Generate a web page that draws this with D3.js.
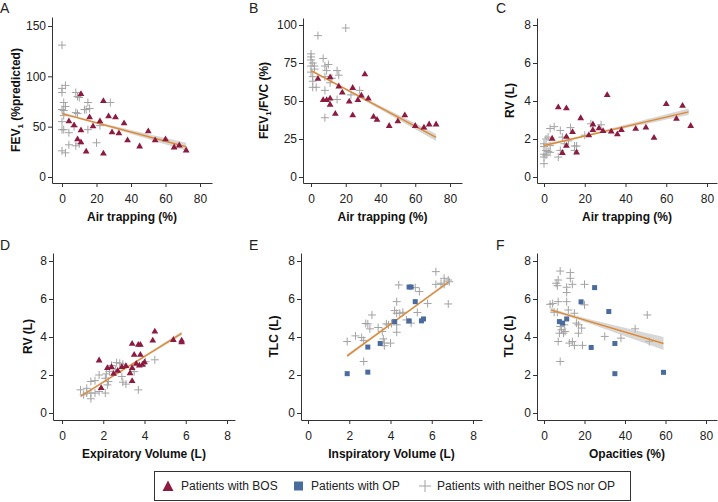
<!DOCTYPE html>
<html>
<head>
<meta charset="utf-8">
<script src="https://cdn.jsdelivr.net/npm/d3@7"></script>
<style>
  body { margin: 0; background: #fff; }
  svg { display: block; font-family: "Liberation Sans", Arial, Helvetica, sans-serif; }
</style>
</head>
<body>
<svg id="chart" width="718" height="502"></svg>
<script>
// data, [x, y]
const aBos = [[4,56],[7,52],[9,38],[11,35],[11,83],[11,47],[14,26],[16,60],[18,51],[22,56],[24,76],[24,24],[27,61],[29,45],[31,60],[33,44],[36,54],[38,37],[45,31],[50,46],[54,37],[60,38],[65,30],[68,32],[72,27]]
const aNeither = [[0,131],[0,88],[2,91],[0,84],[1,74],[2,70],[0,67],[1,66],[1,61],[0,55],[0,47],[1,47],[0,26],[2,24],[4,44],[4,32],[7,50],[8,84],[9,80],[10,79],[8,64],[9,63],[8,31],[10,33],[13,67],[14,67],[16,68],[15,74],[15,47],[20,34],[22,51],[28,74]]

const bBos = [[4,65],[7,51],[9,51],[11,52],[11,66],[11,48],[14,42],[16,60],[18,56],[22,50],[24,59],[24,41],[27,51],[29,54],[31,68],[33,52],[36,40],[38,38],[45,34],[50,37],[54,41],[60,34],[65,33],[68,35],[72,35]]
const bNeither = [[4,93],[20,98],[0,81],[0,79],[0,77],[1,75],[0,73],[2,73],[0,69],[2,71],[1,66],[1,63],[1,59],[3,59],[7,78],[8,73],[10,74],[8,66],[9,70],[8,57],[8,39],[12,65],[11,62],[15,70],[16,67],[15,51],[28,57],[23,54]]

const cBos = [[4,2.05],[7,3.7],[9,1.3],[11,3.65],[11,2.15],[11,1.67],[14,2.4],[16,1.32],[18,3.13],[22,2.23],[24,2.8],[24,2.5],[27,2.6],[29,2.45],[31,4.35],[33,2.43],[36,2.28],[38,2.5],[45,2.57],[50,2.64],[54,2.1],[60,3.87],[65,3.1],[68,3.78],[72,2.72]]
const cNeither = [[0,0.7],[0,1.05],[0,1.2],[1,1.4],[0,1.6],[0,1.75],[1,2.0],[3,1.65],[2,2.1],[3,2.55],[5,2.65],[3,1.3],[7,1.05],[8,2.45],[9,2.1],[8,1.4],[10,1.75],[12,1.9],[13,2.6],[15,1.63],[16,1.63],[15,1.4],[20,2.2],[23,2.8],[28,2.75],[1,1.15],[2,1.35]]

const dBos = [[1.8,2.8],[1.9,1.35],[2.2,2.4],[2.4,2.45],[2.5,2.1],[2.7,2.25],[2.9,2.45],[3.1,2.5],[3.3,2.13],[3.4,2.4],[3.4,3.67],[3.4,1.71],[3.5,3.1],[3.6,2.62],[3.7,3.62],[3.8,3.62],[3.75,2.53],[3.9,2.57],[3.8,3.1],[4.0,2.7],[4.4,3.85],[4.5,4.32],[5.4,3.88],[5.8,3.85],[5.8,3.76]]
const dNeither = [[0.9,1.22],[1.2,1.3],[1.4,1.05],[1.4,0.75],[1.4,1.66],[1.6,1.7],[1.2,1.05],[1.05,0.96],[1.8,2.0],[1.6,1.05],[1.8,1.13],[2.1,1.83],[2.2,1.48],[2.1,1.05],[2.25,1.66],[2.3,2.18],[2.15,2.06],[2.65,2.65],[2.8,2.62],[2.95,2.57],[2.9,1.92],[2.95,1.62],[3.1,1.52],[3.5,2.18],[3.7,1.22],[4.05,2.7],[4.5,2.8],[2.6,2.27],[2.4,2.5]]

const eOp = [[1.9,2.07],[2.9,2.15],[2.9,3.47],[3.5,3.66],[4.2,4.81],[4.9,6.63],[5.0,6.63],[4.9,4.85],[5.2,5.86],[5.5,4.85],[5.6,4.95]]
const eNeither = [[1.9,3.76],[2.3,4.06],[2.6,3.97],[2.7,3.82],[2.7,2.71],[2.8,4.71],[2.9,4.69],[3.0,4.43],[3.1,5.16],[3.4,4.5],[3.6,4.29],[3.65,3.9],[3.7,3.68],[3.7,3.54],[3.8,4.69],[3.9,4.64],[4.0,3.68],[4.05,4.71],[4.2,5.39],[4.3,5.25],[4.3,5.86],[4.3,4.25],[4.3,4.64],[4.4,6.74],[4.45,5.25],[4.6,5.3],[4.77,4.9],[5.0,4.73],[5.2,6.6],[5.3,5.29],[5.4,6.39],[5.8,5.76],[6.2,7.44],[6.2,6.77],[6.45,6.83],[6.6,7.09],[6.6,6.77],[6.8,7.0],[6.8,5.74],[6.85,6.91]]

const fOp = [[7.6,4.81],[9.2,4.73],[11.2,4.95],[18.3,5.85],[23.3,3.45],[25,6.6],[32,5.34],[35,3.66],[35,2.07],[59,2.14]]
const fNeither = [[3,5.72],[4.3,5.76],[5,5.3],[6,6.83],[7,7.0],[6.6,6.7],[7,5.86],[7,3.76],[6.6,5.3],[8,7.47],[8,2.71],[8,4.55],[7.6,4.2],[8.7,4.38],[9.6,4.2],[10,4.64],[10.4,4.29],[11.2,6.62],[11.2,6.34],[11.2,5.86],[12,5.42],[12.5,3.68],[13,7.39],[13,7.09],[14,6.77],[14,3.76],[15,3.56],[15,5.25],[16,4.73],[17,4.64],[17,4.2],[18.6,4.47],[19,3.56],[20,6.77],[20,5.69],[30,4.03],[38,3.94],[45,4.43],[51,5.16],[52,3.76]]

// fitted lines: [x0, y0, x1, y1]; band half-widths at [start, middle, end]
const fitA = [0, 63, 72, 30],     bandA = [[0, 20, 72], [2, 1, 4]]
const fitB = [0, 70, 72, 26],     bandB = [[0, 20, 72], [1, 0.7, 2.3]]
const fitC = [0, 1.66, 71, 3.43], bandC = [[0, 20, 71], [0.1, 0.05, 0.17]]
const fitD = [0.9, 0.88, 5.8, 4.19], bandD = [[0.9, 3, 5.8], [0.09, 0.05, 0.1]]
const fitE = [1.9, 3.01, 6.8, 6.88], bandE = [[1.9, 4.5, 6.8], [0.09, 0.05, 0.09]]
const fitF = [3.3, 5.43, 59, 3.66], bandF = [[3.3, 14, 59], [0.16, 0.08, 0.34]]

const pctTicks = [0, 20, 40, 60, 80]
const litreTicks = [0, 2, 4, 6, 8]

const legendLabels = ['Patients with BOS', 'Patients with OP', 'Patients with neither BOS nor OP']

const RED = '#8c1b3f', BLUE = '#4a6b9e', GRAY = '#a3a3a3', LINE = '#e0892e'

// panel layout (pixels)
const panels = [
  {letter: 'A', lx: 0,   ly: 13,  box: [52, 212, 17, 183],  xr: [62, 200],  yr: [177, 26],  xd: [0, 80], yd: [0, 150],
   xt: pctTicks, yt: [0, 50, 100, 150], xl: 'Air trapping (%)', yl: ['FEV', '1', ' (%predicted)'], ylx: 16,
   bos: aBos, op: [], nei: aNeither, fit: fitA, band: bandA},
  {letter: 'B', lx: 249, ly: 13,  box: [303, 462, 18, 183], xr: [311, 450], yr: [177, 25],  xd: [0, 80], yd: [0, 100],
   xt: pctTicks, yt: [0, 25, 50, 75, 100], xl: 'Air trapping (%)', yl: ['FEV', '1', '/FVC (%)'], ylx: 264,
   bos: bBos, op: [], nei: bNeither, fit: fitB, band: bandB},
  {letter: 'C', lx: 496, ly: 13,  box: [537, 717, 18, 183], xr: [544, 707], yr: [177, 25],  xd: [0, 80], yd: [0, 8],
   xt: pctTicks, yt: [0, 2, 4, 6, 8], xl: 'Air trapping (%)', yl: ['RV (L)'], ylx: 510,
   bos: cBos, op: [], nei: cNeither, fit: fitC, band: bandC},
  {letter: 'D', lx: 0,   ly: 250, box: [53, 235, 253, 420], xr: [62, 227],  yr: [413, 261], xd: [0, 8], yd: [0, 8],
   xt: litreTicks, yt: [0, 2, 4, 6, 8], xl: 'Expiratory Volume (L)', yl: ['RV (L)'], ylx: 28,
   bos: dBos, op: [], nei: dNeither, fit: fitD, band: bandD},
  {letter: 'E', lx: 249, ly: 250, box: [301, 482, 253, 420], xr: [308, 473], yr: [413, 261], xd: [0, 8], yd: [0, 8],
   xt: litreTicks, yt: [0, 2, 4, 6, 8], xl: 'Inspiratory Volume (L)', yl: ['TLC (L)'], ylx: 274,
   bos: [], op: eOp, nei: eNeither, fit: fitE, band: bandE},
  {letter: 'F', lx: 496, ly: 250, box: [537, 717, 253, 420], xr: [544, 706], yr: [413, 261], xd: [0, 80], yd: [0, 8],
   xt: pctTicks, yt: [0, 2, 4, 6, 8], xl: 'Opacities (%)', yl: ['TLC (L)'], ylx: 509,
   bos: [], op: fOp, nei: fNeither, fit: fitF, band: bandF}
]

const svg = d3.select('#chart')
svg.append('rect').attr('width', 718).attr('height', 502).attr('fill', '#fff')

const triPath = 'M0,-3.2L3.4,2.6L-3.4,2.6Z'
const crossPath = 'M-4,0H4M0,-4V4'

panels.forEach(p => {
  const [left, right, top, bottom] = p.box
  const x0 = d3.scaleLinear().domain(p.xd).range(p.xr)
  const y0 = d3.scaleLinear().domain(p.yd).range(p.yr)
  // stretch scales so the axis lines reach the frame ends
  const x = d3.scaleLinear().domain([x0.invert(left), x0.invert(right)]).range([left, right])
  const y = d3.scaleLinear().domain([y0.invert(bottom), y0.invert(top)]).range([bottom, top])

  const g = svg.append('g')

  g.append('text').attr('x', p.lx).attr('y', p.ly)
    .attr('font-size', 14).attr('fill', '#222').text(p.letter)

  const xAxis = g.append('g').attr('transform', `translate(0,${bottom})`)
    .call(d3.axisBottom(x).tickValues(p.xt).tickSize(4).tickSizeOuter(0).tickPadding(7))
  const yAxis = g.append('g').attr('transform', `translate(${left},0)`)
    .call(d3.axisLeft(y).tickValues(p.yt).tickSize(4).tickSizeOuter(0).tickPadding(2))
  ;[xAxis, yAxis].forEach(a => {
    a.attr('font-family', null).attr('font-size', 12)
    a.select('.domain').attr('stroke', '#333')
    a.selectAll('.tick line').attr('stroke', '#333')
    a.selectAll('.tick text').attr('fill', '#222')
  })

  g.append('text').attr('x', (left + right) / 2).attr('y', bottom + 38)
    .attr('text-anchor', 'middle').attr('font-size', 12).attr('font-weight', 'bold')
    .attr('fill', '#111').text(p.xl)

  const yl = g.append('text')
    .attr('transform', `translate(${p.ylx},${(top + bottom) / 2}) rotate(-90)`)
    .attr('dy', '0.35em').attr('text-anchor', 'middle')
    .attr('font-size', 12).attr('font-weight', 'bold').attr('fill', '#111')
  if (p.yl.length === 1) {
    yl.text(p.yl[0])
  } else {
    yl.append('tspan').text(p.yl[0])
    yl.append('tspan').attr('font-size', 8).attr('dy', 3).text(p.yl[1])
    yl.append('tspan').attr('dy', -3).text(p.yl[2])
  }

  // crosses
  g.append('g').selectAll('path').data(p.nei).enter().append('path')
    .attr('d', crossPath)
    .attr('transform', d => `translate(${x(d[0])},${y(d[1])})`)
    .attr('stroke', GRAY).attr('stroke-width', 1).attr('fill', 'none')

  // confidence band + fit
  const slope = (p.fit[3] - p.fit[1]) / (p.fit[2] - p.fit[0])
  const fitAt = v => p.fit[1] + slope * (v - p.fit[0])
  const bandPts = p.band[0].map((v, i) => [v, p.band[1][i]])
  const area = d3.area().curve(d3.curveNatural)
    .x(d => x(d[0]))
    .y0(d => y(fitAt(d[0]) - d[1]))
    .y1(d => y(fitAt(d[0]) + d[1]))
  g.append('path').datum(bandPts).attr('d', area)
    .attr('fill', '#bdbdbd').attr('fill-opacity', 0.6)
  g.append('line')
    .attr('x1', x(p.fit[0])).attr('y1', y(p.fit[1]))
    .attr('x2', x(p.fit[2])).attr('y2', y(p.fit[3]))
    .attr('stroke', LINE).attr('stroke-width', 1.4)

  // filled markers
  g.append('g').selectAll('path').data(p.bos).enter().append('path')
    .attr('d', triPath)
    .attr('transform', d => `translate(${x(d[0])},${y(d[1])})`)
    .attr('fill', RED)
  g.append('g').selectAll('rect').data(p.op).enter().append('rect')
    .attr('x', d => x(d[0]) - 2.5).attr('y', d => y(d[1]) - 2.5)
    .attr('width', 5).attr('height', 5)
    .attr('fill', BLUE)
})

// legend
const leg = svg.append('g')
leg.append('rect').attr('x', 154.5).attr('y', 471.5).attr('width', 476).attr('height', 29)
  .attr('fill', '#fff').attr('stroke', '#333').attr('stroke-width', 1)
const legY = 486
leg.append('path').attr('d', 'M168,480.5L173.5,491L162.5,491Z').attr('fill', RED)
leg.append('rect').attr('x', 294).attr('y', legY - 4.5).attr('width', 9).attr('height', 9).attr('fill', BLUE)
leg.append('path').attr('d', `M419,${legY}H431M425,${legY - 6}V${legY + 6}`).attr('stroke', GRAY).attr('stroke-width', 1)
const legX = [181, 311, 437]
legendLabels.forEach((t, i) => {
  leg.append('text').attr('x', legX[i]).attr('y', legY).attr('dy', '0.35em')
    .attr('font-size', 12).attr('fill', '#222').text(t)
})
</script>
</body>
</html>
